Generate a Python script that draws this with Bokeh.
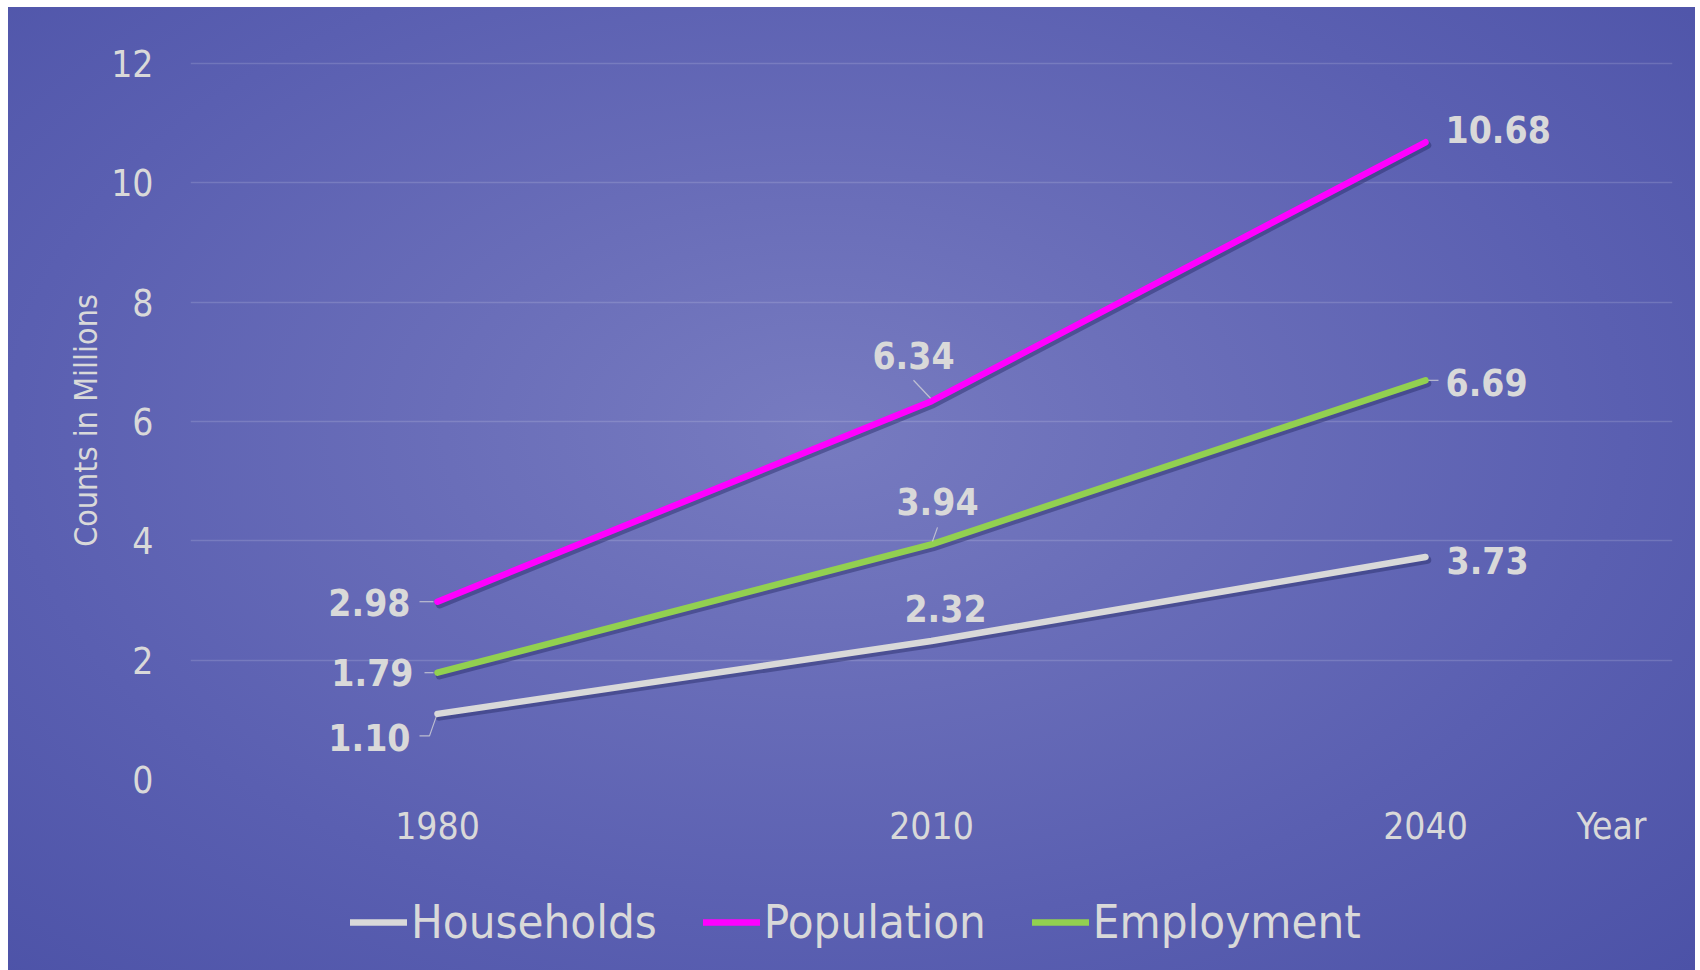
from bokeh.plotting import figure
from bokeh.layouts import column
from bokeh.models import Range1d, FixedTicker, Legend, LegendItem, InlineStyleSheet
from bokeh.core.properties import value
from bokeh.embed import file_html
from bokeh.resources import INLINE

# ---- data ----
years = ["1980", "2010", "2040"]
households = [1.10, 2.32, 3.73]
population = [2.98, 6.34, 10.68]
employment = [1.79, 3.94, 6.69]
series_names = ["Households", "Population", "Employment"]
y_ticks = [0, 2, 4, 6, 8, 10, 12]
x_title = "Year"
y_title = "Counts in Millions"

# ---- styles ----
colors = ["#d9d9d9", "#ff00ff", "#92d050"]
TXT = "#d9d9d9"
FONT = "DejaVu Sans Condensed"
# data-label placement (screen px): x offset, y offset, align
lab_dx = [[-27, 14, 21], [-27, -18, 20], [-24, 6, 20]]
lab_dy = [[24, -33, 4], [1, -46, -13], [0, -43, 2]]
lab_al = [["right", "center", "left"], ["right", "center", "left"], ["right", "center", "left"]]
# leader lines (screen px relative to point), per series / year: list of (dx, dy) vertices
leaders = {
    (0, 0): [(-18, 22), (-8, 22), (-1, 2)],
    (1, 0): [(-18, 0), (-4, 0)],
    (2, 0): [(-13, 0), (-4, 0)],
    (1, 1): [(-18, -21), (-1, -3)],
    (2, 1): [(6, -17), (1, -3)],
    (2, 2): [(3, 0), (13, 0)],
}

W = 1687
TOPPAD = 2                       # px of headroom so the top gridline is visible
BL, BR, BT, BB = 182, 23, 56 - TOPPAD, 100
FW, FH0 = W - BL - BR, 716
FH = FH0 + TOPPAD
H1 = BT + FH + BB
H2 = 91
xpx = FW / len(years)          # pixels per category
ypx = FH0 / (y_ticks[-1] - y_ticks[0])  # pixels per unit
xs = [i + 0.5 for i in range(len(years))]
year_title_pos = xs[-1] + 186 / xpx

p = figure(x_range=Range1d(0, len(years)), y_range=Range1d(y_ticks[0], y_ticks[-1] + TOPPAD / ypx),
           width=W, height=H1, output_backend="svg", toolbar_location=None,
           min_border_left=BL, min_border_right=BR, min_border_top=BT, min_border_bottom=BB)
p.background_fill_alpha = 0
p.border_fill_alpha = 0
p.outline_line_color = None

p.xgrid.grid_line_color = None
p.ygrid.grid_line_color = "white"
p.ygrid.grid_line_alpha = 0.15
p.ygrid.grid_line_width = 1.5
p.yaxis.ticker = FixedTicker(ticks=y_ticks)
p.xaxis.ticker = FixedTicker(ticks=xs + [year_title_pos])
overrides = {x: y for x, y in zip(xs, years)}
overrides[year_title_pos] = x_title
p.xaxis.major_label_overrides = overrides

for ax in (p.xaxis[0], p.yaxis[0]):
    ax.axis_line_color = None
    ax.major_tick_line_color = None
    ax.minor_tick_line_color = None
    ax.major_label_text_color = TXT
    ax.major_label_text_font = FONT
    ax.major_label_text_font_size = "37px"
p.yaxis.major_label_standoff = 31
p.xaxis.major_label_standoff = 19
p.yaxis.axis_label = y_title
p.yaxis.axis_label_text_font = FONT
p.yaxis.axis_label_text_font_size = "32px"
p.yaxis.axis_label_text_font_style = "normal"
p.yaxis.axis_label_text_color = TXT
p.yaxis.axis_label_standoff = 3

series = [households, population, employment]
for i, vals in enumerate(series):
    sx = [x + 2 / xpx for x in xs]
    sy = [v - 3 / ypx for v in vals]
    p.line(sx, sy, line_color="#262a66", line_alpha=0.45, line_width=7.5, line_cap="round", line_join="round")
    p.line(xs, vals, line_color=colors[i], line_width=6.5, line_cap="round", line_join="round")

for (i, j), pts in leaders.items():
    lx = [xs[j] + dx / xpx for dx, dy in pts]
    ly = [series[i][j] - dy / ypx for dx, dy in pts]
    p.line(lx, ly, line_color=TXT, line_alpha=0.75, line_width=1.2)

for i, vals in enumerate(series):
    for j in range(len(years)):
        p.text(x=[xs[j]], y=[vals[j]], text=[f"{vals[j]:.2f}"],
               x_offset=lab_dx[i][j], y_offset=lab_dy[i][j],
               text_align=lab_al[i][j], text_baseline="middle",
               text_color=TXT, text_font=value(FONT), text_font_size="37px",
               text_font_style="bold")

# legend strip below the chart (series drawn out of view, only their legend shows)
q = figure(x_range=Range1d(0, len(years)), y_range=Range1d(-2, -1), width=W, height=H2,
           output_backend="svg", toolbar_location=None,
           x_axis_location=None, y_axis_location=None, min_border=0)
q.background_fill_alpha = 0
q.border_fill_alpha = 0
q.outline_line_color = None
q.grid.grid_line_color = None
items = []
for i, name in enumerate(series_names):
    r = q.line(xs, series[i], line_color=colors[i], line_width=6.5, line_cap="round")
    items.append(LegendItem(label=name, renderers=[r]))
legend = Legend(items=items, orientation="horizontal", location=(160, 21),
                label_text_font=FONT, label_text_font_size="47px", label_text_color=TXT,
                glyph_width=57, glyph_height=40, label_standoff=4, spacing=46,
                padding=0, margin=0, border_line_color=None, background_fill_alpha=0)
q.add_layout(legend, "center")

layout = column(p, q, spacing=0, margin=(7, 5, 0, 8),
                stylesheets=[InlineStyleSheet(css=":host { background: radial-gradient(ellipse at 48% 44%, #777bc0 0%, #6a6eb9 30%, #5a5fb1 65%, #4c52a7 100%); }")])

open("out.html", "w").write(file_html(layout, INLINE))
